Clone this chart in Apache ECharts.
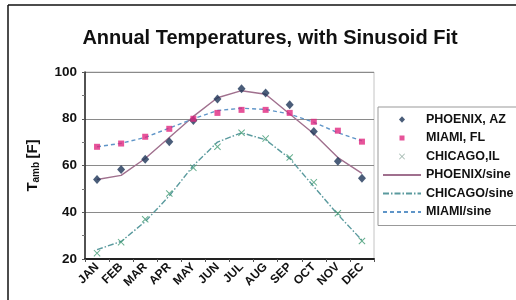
<!DOCTYPE html>
<html>
<head>
<meta charset="utf-8">
<script src="https://cdn.jsdelivr.net/npm/echarts@6/dist/echarts.min.js"></script>
<style>
  html, body { margin: 0; padding: 0; background: #fff; }
  #chart { width: 516px; height: 300px; }
</style>
</head>
<body>
<div id="chart"></div>
<script>
const months = ['JAN', 'FEB', 'MAR', 'APR', 'MAY', 'JUN', 'JUL', 'AUG', 'SEP', 'OCT', 'NOV', 'DEC']
const yTicks = [20, 40, 60, 80, 100]

const phoenix = [54, 58.3, 62.7, 70.2, 79.2, 88.5, 92.8, 91, 86, 74.5, 61.8, 54.5]
const miami = [68, 69.4, 72.3, 75.7, 80, 82.5, 83.8, 83.8, 82.5, 78.7, 74.9, 70.2]
const chicago = [22.5, 27.2, 37, 48, 59, 68, 74, 71.5, 63.4, 52.8, 39.6, 27.7]

const phoenixSine = [54, 55.8, 63, 72, 81, 89, 92, 90.5, 82, 73.6, 63.4, 56.6]
const miamiSine = [68, 69.5, 72, 76, 80, 83.5, 84.5, 84, 82, 78.5, 74, 70.5]
const chicagoSine = [24, 27.5, 36, 47, 60, 70, 74, 71, 63, 51, 39, 28]

const crossPath = 'path://M0,1L1,0L5,4L9,0L10,1L6,5L10,9L9,10L5,6L1,10L0,9L4,5Z'

// legend icons: small marker centred in the 38x7 icon box (the two moveTo points fix the box)
const legendDiamond = 'path://M0,0M38,7M19,0.3L22,3.5L19,6.7L16,3.5Z'
const legendSquare = 'path://M0,0M38,7M16.5,1L21.5,1L21.5,6L16.5,6Z'
const legendCross = 'path://M0,0M38,7M16,1.1L16.6,0.5L19,2.9L21.4,0.5L22,1.1L19.6,3.5L22,5.9L21.4,6.5L19,4.1L16.6,6.5L16,5.9L18.4,3.5Z'

const chart = echarts.init(document.getElementById('chart'))

// line series: hide the symbol drawn in the middle of the legend line
const lineLegend = name => ({ name: name, itemStyle: { opacity: 0 } })

chart.setOption({
  backgroundColor: '#ffffff',
  animation: false,
  textStyle: { fontFamily: 'Liberation Sans, Arial, sans-serif' },
  title: {
    text: 'Annual Temperatures, with Sinusoid Fit',
    left: 265,
    textAlign: 'center',
    top: 23,
    textStyle: { fontSize: 20, fontWeight: 'bold', color: '#111' }
  },
  graphic: [
    { type: 'line', shape: { x1: 8, y1: 5, x2: 8, y2: 300 }, style: { stroke: '#111', lineWidth: 1.5 } },
    { type: 'line', shape: { x1: 8, y1: 5, x2: 516, y2: 5 }, style: { stroke: '#111', lineWidth: 1.5 } }
  ],
  legend: {
    orient: 'vertical',
    left: 378,
    top: 107,
    padding: [6, 4, 7, 4],
    itemWidth: 38,
    itemHeight: 7,
    itemGap: 5.5,
    backgroundColor: '#fff',
    borderColor: '#999',
    borderWidth: 1,
    textStyle: { fontSize: 12.5, fontWeight: 'bold', color: '#111' },
    data: [
      { name: 'PHOENIX, AZ', icon: legendDiamond },
      { name: 'MIAMI, FL', icon: legendSquare },
      { name: 'CHICAGO,IL', icon: legendCross, itemStyle: { color: '#8aa59a' } },
      lineLegend('PHOENIX/sine'),
      lineLegend('CHICAGO/sine'),
      lineLegend('MIAMI/sine')
    ]
  },
  grid: {
    left: 85,
    right: 142,
    top: 72,
    bottom: 41,
    show: true,
    borderColor: '#c4c4c4',
    borderWidth: 1
  },
  xAxis: {
    type: 'category',
    data: months,
    boundaryGap: true,
    axisLine: { lineStyle: { color: '#222', width: 2 } },
    axisTick: { show: true, length: 3, lineStyle: { color: '#555' } },
    axisLabel: {
      rotate: 45,
      fontSize: 12,
      fontWeight: 'bold',
      color: '#111',
      margin: 6,
      interval: 0
    },
    splitLine: { show: false }
  },
  yAxis: {
    type: 'value',
    min: yTicks[0],
    max: yTicks[yTicks.length - 1],
    interval: 20,
    name: '{t|T}{s|amb} {t|[F]}',
    nameLocation: 'middle',
    nameGap: 44,
    nameTextStyle: {
      rich: {
        t: { fontSize: 15, fontWeight: 'bold', color: '#111' },
        s: { fontSize: 10, fontWeight: 'bold', color: '#111', verticalAlign: 'bottom', padding: [6, 0, 0, 0] }
      }
    },
    axisLine: { show: true, lineStyle: { color: '#222', width: 1.5 } },
    axisTick: { show: true, length: 3, lineStyle: { color: '#555' } },
    minorTick: { show: true, splitNumber: 2, length: 3, lineStyle: { color: '#777' } },
    axisLabel: { fontSize: 13.5, fontWeight: 'bold', color: '#111', margin: 8 },
    splitLine: { lineStyle: { color: '#8a8a8a', width: 1 } }
  },
  series: [
    {
      name: 'PHOENIX/sine',
      type: 'line',
      data: phoenixSine,
      symbol: 'none',
      lineStyle: { color: '#a0708e', width: 1.4 },
      itemStyle: { color: '#a0708e' },
      z: 2
    },
    {
      name: 'CHICAGO/sine',
      type: 'line',
      data: chicagoSine,
      symbol: 'none',
      lineStyle: { color: '#5a9a9e', width: 1.4, type: [6, 2, 1.5, 2] },
      itemStyle: { color: '#5a9a9e' },
      z: 2
    },
    {
      name: 'MIAMI/sine',
      type: 'line',
      data: miamiSine,
      symbol: 'none',
      lineStyle: { color: '#5f95c8', width: 1.4, type: [4, 3] },
      itemStyle: { color: '#5f95c8' },
      z: 2
    },
    {
      name: 'PHOENIX, AZ',
      type: 'scatter',
      data: phoenix,
      symbol: 'diamond',
      symbolSize: [8, 9],
      itemStyle: { color: '#1d3557' },
      z: 3
    },
    {
      name: 'MIAMI, FL',
      type: 'scatter',
      data: miami,
      symbol: 'rect',
      symbolSize: 6,
      itemStyle: { color: '#e0287f' },
      z: 3
    },
    {
      name: 'CHICAGO,IL',
      type: 'scatter',
      data: chicago,
      symbol: crossPath,
      symbolSize: 7,
      itemStyle: { color: '#3f9a72' },
      z: 3
    }
  ]
})
</script>
</body>
</html>
